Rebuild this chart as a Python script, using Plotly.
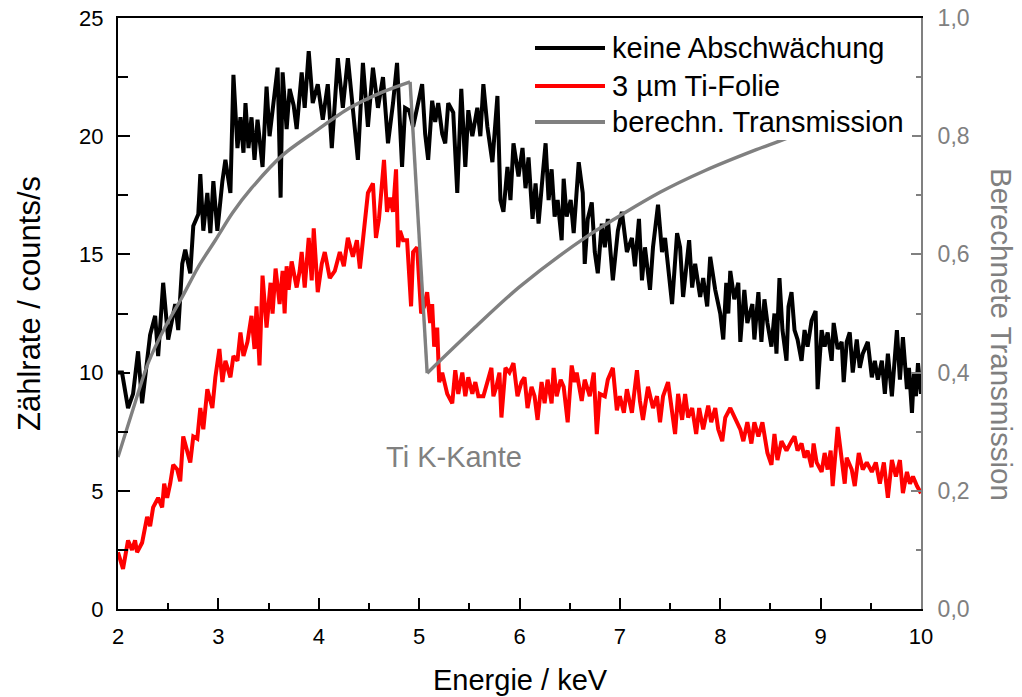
import plotly.graph_objects as go

# Spectrum without attenuation: energy (keV) / count rate (counts/s)
e_open = [2.00, 2.04, 2.10, 2.15, 2.20, 2.24, 2.32, 2.37, 2.40, 2.45, 2.50, 2.57, 2.60, 2.64, 2.67,
          2.72, 2.75, 2.80, 2.82, 2.85, 2.89, 2.92, 2.95, 2.99, 3.04, 3.07, 3.12, 3.15, 3.19, 3.22,
          3.25, 3.27, 3.30, 3.33, 3.36, 3.39, 3.44, 3.48, 3.51, 3.54, 3.59, 3.62, 3.64, 3.68, 3.71,
          3.75, 3.78, 3.83, 3.86, 3.90, 3.94, 3.99, 4.04, 4.09, 4.13, 4.19, 4.24, 4.29, 4.34, 4.39,
          4.44, 4.49, 4.54, 4.59, 4.64, 4.69, 4.74, 4.78, 4.83, 4.86, 4.90, 4.94, 4.98, 5.03, 5.06,
          5.09, 5.13, 5.16, 5.19, 5.23, 5.26, 5.29, 5.34, 5.38, 5.42, 5.46, 5.49, 5.53, 5.58, 5.61,
          5.64, 5.68, 5.73, 5.78, 5.81, 5.84, 5.88, 5.91, 5.94, 5.99, 6.03, 6.06, 6.09, 6.13, 6.16,
          6.19, 6.23, 6.26, 6.29, 6.32, 6.35, 6.38, 6.42, 6.44, 6.47, 6.51, 6.54, 6.59, 6.63, 6.65,
          6.68, 6.72, 6.75, 6.78, 6.82, 6.85, 6.88, 6.93, 6.98, 7.02, 7.07, 7.12, 7.15, 7.19, 7.22,
          7.25, 7.30, 7.33, 7.38, 7.42, 7.45, 7.48, 7.52, 7.57, 7.60, 7.63, 7.69, 7.72, 7.75, 7.80,
          7.83, 7.87, 7.90, 7.95, 8.00, 8.03, 8.06, 8.08, 8.10, 8.14, 8.18, 8.20, 8.24, 8.27, 8.32,
          8.34, 8.38, 8.41, 8.44, 8.47, 8.51, 8.54, 8.56, 8.59, 8.62, 8.66, 8.68, 8.71, 8.74, 8.77,
          8.81, 8.84, 8.87, 8.91, 8.95, 8.97, 9.01, 9.04, 9.07, 9.11, 9.13, 9.17, 9.21, 9.23, 9.26,
          9.29, 9.32, 9.36, 9.39, 9.42, 9.47, 9.51, 9.54, 9.57, 9.61, 9.64, 9.67, 9.71, 9.76, 9.79,
          9.82, 9.86, 9.88, 9.91, 9.93, 9.95, 9.97, 10.00]
rate_open = [10.0, 10.0, 8.5, 9.1, 10.9, 8.7, 11.6, 12.4, 10.7, 13.8, 11.4, 12.9, 11.8, 14.6, 15.2,
             14.2, 16.2, 16.7, 18.4, 16.0, 17.6, 15.9, 18.1, 16.0, 18.1, 19.0, 17.6, 22.6, 19.5, 20.8,
             19.3, 21.4, 19.5, 20.8, 19.0, 20.7, 18.7, 22.1, 20.0, 21.1, 22.9, 17.4, 22.7, 20.3, 22.0,
             21.3, 20.3, 22.7, 21.2, 23.6, 21.4, 22.2, 20.7, 22.2, 19.5, 23.3, 21.2, 23.3, 21.2, 19.0,
             23.1, 20.4, 22.9, 21.2, 22.5, 19.7, 21.4, 23.1, 18.7, 21.2, 21.1, 20.4, 21.2, 22.2, 20.1,
             19.0, 21.5, 20.6, 21.4, 20.1, 19.7, 21.4, 21.0, 17.6, 22.0, 18.7, 21.1, 20.0, 21.2, 20.0,
             22.2, 20.4, 18.9, 21.7, 17.3, 16.8, 18.7, 17.3, 19.7, 18.3, 19.5, 17.8, 19.1, 16.5, 18.0,
             16.3, 18.3, 19.7, 17.3, 18.6, 16.6, 17.3, 15.6, 18.2, 16.6, 17.3, 15.9, 18.9, 17.6, 14.6,
             16.5, 17.2, 15.1, 14.2, 16.3, 15.3, 16.5, 13.9, 16.0, 16.8, 15.1, 15.7, 14.5, 16.5, 13.9,
             15.3, 13.5, 15.3, 17.1, 15.1, 15.7, 14.5, 12.9, 15.9, 15.3, 13.2, 15.6, 13.6, 14.6, 13.2,
             14.0, 12.8, 14.9, 13.5, 12.5, 11.4, 13.8, 12.5, 14.3, 13.1, 13.8, 11.3, 13.5, 12.1, 12.9,
             11.4, 13.4, 11.3, 13.1, 12.1, 11.1, 12.5, 10.8, 14.0, 11.8, 10.5, 12.8, 13.4, 11.8, 11.4,
             10.5, 11.8, 11.1, 12.2, 12.6, 9.3, 11.8, 11.1, 11.7, 10.5, 12.1, 11.0, 11.3, 9.6, 11.3,
             11.7, 10.0, 11.4, 10.2, 10.8, 11.3, 9.8, 10.5, 9.7, 10.5, 9.1, 10.8, 9.0, 11.8, 9.7,
             11.5, 9.3, 10.2, 8.3, 10.0, 9.0, 10.4, 9.1]

# Spectrum behind the 3 µm Ti foil
e_ti = [2.00, 2.05, 2.10, 2.14, 2.17, 2.19, 2.24, 2.29, 2.32, 2.35, 2.40, 2.44, 2.46, 2.49, 2.52,
        2.55, 2.59, 2.62, 2.65, 2.69, 2.72, 2.75, 2.79, 2.82, 2.85, 2.89, 2.94, 2.97, 3.01, 3.04,
        3.07, 3.12, 3.15, 3.19, 3.22, 3.25, 3.29, 3.33, 3.36, 3.38, 3.41, 3.44, 3.48, 3.52, 3.54,
        3.57, 3.61, 3.64, 3.66, 3.68, 3.70, 3.73, 3.78, 3.81, 3.83, 3.86, 3.90, 3.93, 3.95, 3.99,
        4.03, 4.06, 4.11, 4.16, 4.21, 4.25, 4.29, 4.34, 4.38, 4.41, 4.46, 4.49, 4.54, 4.57, 4.60,
        4.65, 4.68, 4.71, 4.74, 4.77, 4.79, 4.81, 4.84, 4.88, 4.92, 4.94, 4.98, 5.02, 5.05, 5.08,
        5.11, 5.13, 5.15, 5.18, 5.20, 5.23, 5.28, 5.33, 5.36, 5.39, 5.43, 5.46, 5.49, 5.53, 5.56,
        5.59, 5.64, 5.68, 5.72, 5.74, 5.77, 5.80, 5.82, 5.86, 5.90, 5.94, 5.98, 6.02, 6.05, 6.08,
        6.12, 6.15, 6.18, 6.22, 6.25, 6.28, 6.32, 6.34, 6.37, 6.41, 6.44, 6.48, 6.52, 6.55, 6.57,
        6.62, 6.65, 6.70, 6.74, 6.77, 6.80, 6.85, 6.88, 6.93, 6.97, 7.00, 7.04, 7.07, 7.12, 7.17,
        7.20, 7.23, 7.28, 7.33, 7.37, 7.40, 7.43, 7.48, 7.52, 7.55, 7.58, 7.62, 7.65, 7.68, 7.72,
        7.76, 7.79, 7.83, 7.88, 7.91, 7.95, 7.98, 8.02, 8.05, 8.10, 8.15, 8.20, 8.23, 8.27, 8.31,
        8.34, 8.38, 8.42, 8.47, 8.51, 8.54, 8.57, 8.61, 8.66, 8.71, 8.74, 8.77, 8.81, 8.84, 8.87,
        8.91, 8.93, 8.96, 9.01, 9.04, 9.07, 9.10, 9.12, 9.17, 9.21, 9.24, 9.26, 9.31, 9.34, 9.38,
        9.42, 9.46, 9.51, 9.55, 9.59, 9.63, 9.67, 9.71, 9.75, 9.79, 9.82, 9.86, 9.89, 9.92, 9.96,
        10.00]
rate_ti = [2.4, 1.7, 2.9, 2.5, 2.9, 2.4, 2.8, 3.9, 3.5, 4.3, 4.7, 4.3, 5.3, 4.7, 5.3,
           6.1, 5.9, 5.4, 7.3, 6.7, 6.2, 7.3, 7.2, 8.5, 7.6, 9.3, 8.5, 9.8, 11.0, 9.6,
           10.5, 9.8, 10.7, 10.5, 11.7, 10.7, 11.3, 12.4, 11.0, 12.8, 10.3, 14.1, 11.9, 13.8, 12.5,
           14.4, 12.9, 14.3, 12.5, 14.5, 13.5, 14.7, 13.6, 14.3, 15.1, 13.6, 15.7, 13.9, 16.1, 13.4,
           14.6, 15.1, 14.0, 14.3, 15.1, 14.5, 15.7, 14.9, 15.6, 14.4, 16.2, 17.6, 18.0, 15.7, 16.5,
           19.0, 16.8, 17.4, 16.8, 18.6, 15.3, 16.0, 15.6, 15.6, 12.8, 15.1, 15.3, 12.5, 12.8, 13.4,
           12.1, 12.9, 11.1, 11.9, 9.6, 10.0, 9.1, 8.7, 10.1, 9.1, 10.0, 9.0, 9.8, 9.1, 9.6,
           9.0, 9.0, 9.6, 10.2, 9.0, 9.4, 10.0, 8.1, 10.2, 10.0, 10.4, 9.0, 9.6, 9.8, 8.5,
           9.4, 9.0, 8.0, 9.6, 8.7, 9.7, 8.7, 10.2, 9.0, 9.7, 9.4, 7.9, 10.3, 9.6, 10.0,
           8.8, 9.7, 9.0, 10.0, 7.4, 9.1, 9.0, 9.7, 10.2, 8.4, 9.0, 8.3, 9.3, 8.3, 10.1,
           8.8, 8.0, 9.4, 8.5, 9.0, 7.9, 9.0, 9.6, 8.4, 7.4, 9.1, 8.0, 9.1, 8.1, 8.5,
           7.4, 8.5, 7.6, 8.6, 7.9, 8.5, 7.6, 7.1, 8.1, 8.5, 8.0, 7.6, 7.1, 7.9, 7.0,
           7.9, 7.3, 7.9, 6.6, 6.1, 7.4, 6.3, 7.1, 6.7, 7.1, 7.3, 6.7, 7.0, 6.4, 6.7,
           6.0, 7.0, 6.2, 5.8, 6.6, 5.9, 6.7, 5.2, 7.7, 6.2, 5.3, 6.4, 5.9, 5.2, 6.6,
           5.9, 6.2, 5.8, 6.2, 5.3, 6.2, 4.7, 6.3, 5.6, 6.3, 4.9, 5.8, 5.3, 5.6, 5.2,
           4.9]

# Calculated transmission of the foil, below and above the Ti K edge
e_trans_low = [2.00, 2.17, 2.30, 2.47, 2.64, 2.80, 2.97, 3.14, 3.33, 3.64, 3.98, 4.31, 4.64, 4.91]
trans_low = [0.257, 0.349, 0.416, 0.477, 0.528, 0.579, 0.624, 0.670, 0.712, 0.768, 0.810, 0.848, 0.875, 0.892]
e_trans_high = [5.08, 5.56, 6.00, 6.67, 7.40, 7.85, 8.34, 8.64, 9.00]
trans_high = [0.399, 0.477, 0.545, 0.630, 0.705, 0.742, 0.776, 0.795, 0.820]

x_tickvals = [2, 3, 4, 5, 6, 7, 8, 9, 10]
y_tickvals = [0, 5, 10, 15, 20, 25]
y2_tickvals = [0.0, 0.2, 0.4, 0.6, 0.8, 1.0]

series_names = ["keine Abschwächung", "3 µm Ti-Folie", "berechn. Transmission"]
series_colors = ["#000000", "#ff0000", "#808080"]

FONT = "Liberation Sans, Arial, sans-serif"
W, H = 1022, 697
L, R, T, B = 118, 101, 18, 88


def px(x):
    return (x - L) / (W - L - R)


def py(y):
    return (H - B - y) / (H - T - B)


fig = go.Figure()
fig.add_trace(go.Scatter(x=e_open, y=rate_open, mode="lines",
                         line=dict(color=series_colors[0], width=4),
                         name=series_names[0], showlegend=False))
fig.add_trace(go.Scatter(x=e_ti, y=rate_ti, mode="lines",
                         line=dict(color=series_colors[1], width=4),
                         name=series_names[1], showlegend=False))
gray_line = dict(color=series_colors[2], width=3.4)
fig.add_trace(go.Scatter(x=e_trans_low, y=trans_low, mode="lines", yaxis="y2",
                         line=dict(gray_line, shape="spline", smoothing=0.8),
                         name=series_names[2], showlegend=False))
fig.add_trace(go.Scatter(x=[e_trans_low[-1], e_trans_high[0]], y=[trans_low[-1], trans_high[0]],
                         mode="lines", yaxis="y2", line=gray_line, showlegend=False))
fig.add_trace(go.Scatter(x=e_trans_high, y=trans_high, mode="lines", yaxis="y2",
                         line=dict(gray_line, shape="spline", smoothing=0.8),
                         showlegend=False))

fig.update_layout(
    width=W, height=H,
    margin=dict(l=L, r=R, t=T, b=B, autoexpand=False),
    paper_bgcolor="white", plot_bgcolor="white",
    separators=", ",
    font=dict(family=FONT, size=22, color="black"),
    xaxis=dict(range=[2, 10], tickvals=x_tickvals, showgrid=False, zeroline=False, automargin=False,
               showline=True, linecolor="black", linewidth=2, mirror=True,
               ticks="inside", ticklen=11, tickwidth=2, tickcolor="black",
               minor=dict(dtick=0.5, ticks="inside", ticklen=6, tickwidth=2, tickcolor="black"),
               tickfont=dict(size=22, color="black"), ticklabelstandoff=7),
    yaxis=dict(range=[0, 25], tickvals=y_tickvals, showgrid=False, zeroline=False, automargin=False,
               showline=True, linecolor="black", linewidth=2,
               ticks="inside", ticklen=12, tickwidth=2, tickcolor="black",
               minor=dict(dtick=2.5, ticks="inside", ticklen=10, tickwidth=2, tickcolor="black"),
               tickfont=dict(size=22, color="black"), ticklabelstandoff=8),
    yaxis2=dict(range=[0, 1], tickvals=y2_tickvals, tickformat=".1f", overlaying="y", side="right",
                showgrid=False, zeroline=False, automargin=False,
                showline=True, linecolor="#808080", linewidth=2,
                ticks="inside", ticklen=10, tickwidth=2, tickcolor="#808080",
                minor=dict(dtick=0.1, ticks="inside", ticklen=5, tickwidth=2, tickcolor="#808080"),
                tickfont=dict(size=23, color="#808080"), ticklabelstandoff=10),
    showlegend=False,
)

# Legend box with line samples
shapes = [dict(type="rect", xref="paper", yref="paper", x0=px(527), x1=px(912), y0=py(140), y1=py(27),
               fillcolor="white", line=dict(width=0), layer="above")]
annotations = []
rows = [48, 86, 122]
for name, color, row in zip(series_names, series_colors, rows):
    shapes.append(dict(type="line", xref="paper", yref="paper", x0=px(535), x1=px(605),
                       y0=py(row), y1=py(row), line=dict(color=color, width=4), layer="above"))
    annotations.append(dict(xref="paper", yref="paper", x=px(610), y=py(row), text=name,
                            showarrow=False, xanchor="left", yanchor="middle",
                            font=dict(size=29, color="black")))

# Edge label and axis titles
annotations += [
    dict(xref="paper", yref="paper", x=px(454), y=py(457), text="Ti K-Kante", showarrow=False,
         xanchor="center", yanchor="middle", font=dict(size=29, color="#808080")),
    dict(xref="paper", yref="paper", x=px(520), y=py(680), text="Energie / keV", showarrow=False,
         xanchor="center", yanchor="middle", font=dict(size=29, color="black")),
    dict(xref="paper", yref="paper", x=px(29), y=py(304), text="Zählrate / counts/s", showarrow=False,
         textangle=-90, xanchor="center", yanchor="middle", font=dict(size=31, color="black")),
    dict(xref="paper", yref="paper", x=px(1002), y=py(334), text="Berechnete Transmission",
         showarrow=False, textangle=90, xanchor="center", yanchor="middle",
         font=dict(size=29.5, color="#808080")),
]
fig.update_layout(shapes=shapes, annotations=annotations)

fig.write_html("out.html")
